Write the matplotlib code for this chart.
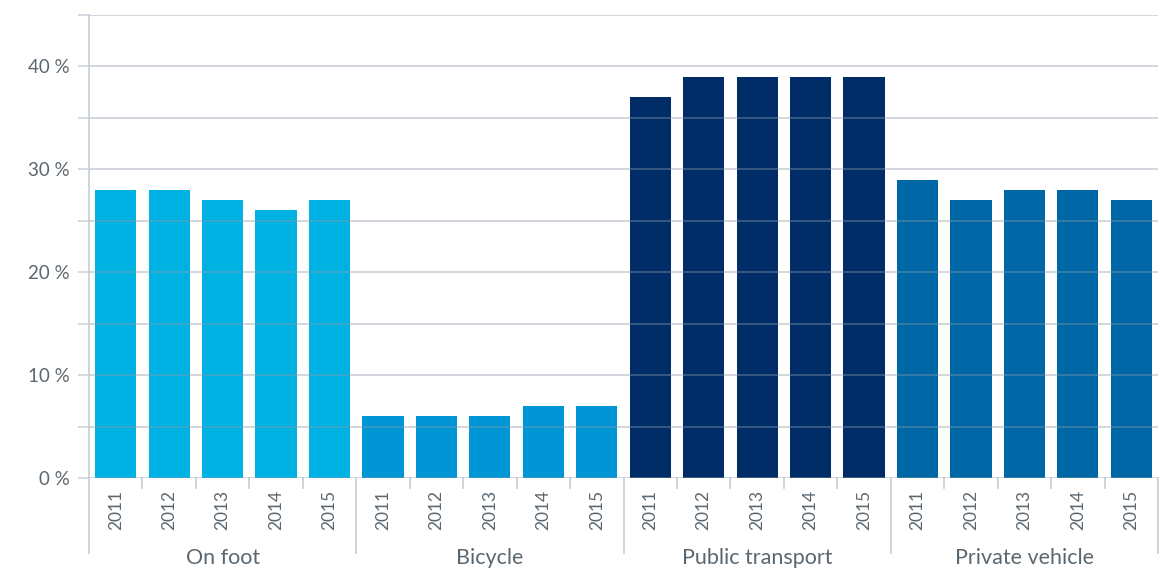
import numpy as np
import matplotlib.pyplot as plt
import matplotlib.transforms as mtransforms

plt.rcParams['font.family'] = ['Lato', 'DejaVu Sans']

years = ['2011', '2012', '2013', '2014', '2015']
groups = ['On foot', 'Bicycle', 'Public transport', 'Private vehicle']
on_foot = [28, 28, 27, 26, 27]
bicycle = [6, 6, 6, 7, 7]
public_transport = [37, 39, 39, 39, 39]
private_vehicle = [29, 27, 28, 28, 27]
values = [on_foot, bicycle, public_transport, private_vehicle]
colors = ['#00b2e3', '#0096d6', '#002d68', '#0067a6']

text_color = '#5b6770'
line_color = '#c9d1d8'

fig = plt.figure(figsize=(11.75, 5.71), dpi=100)
ax = fig.add_axes([89 / 1175, 93 / 571, (1158 - 89) / 1175, (478 - 15) / 571])

n = len(years)
for g, (vals, col) in enumerate(zip(values, colors)):
    x = np.arange(n) + g * n
    ax.bar(x, vals, width=0.77, color=col, zorder=2)

ax.set_xlim(-0.5, len(groups) * n - 0.5)
ax.set_ylim(0, 45)

# gridlines drawn over the bars
for y in np.arange(0, 46, 5):
    ax.axhline(y, color='#8a9aab', alpha=0.5, lw=1.1, zorder=3)
ax.set_yticks(np.arange(0, 46, 5))
ax.set_yticklabels([f'{int(v)} %' if v % 10 == 0 else '' for v in np.arange(0, 46, 5)],
                   fontsize=13.5, color=text_color)
ax.tick_params(axis='y', length=8, width=1.1, color=line_color, pad=6)
ax.set_xticks([])

for s in ['top', 'right', 'bottom', 'left']:
    ax.spines[s].set_visible(False)

trans = mtransforms.blended_transform_factory(ax.transData, ax.transAxes)
bottom = -0.162
# group separators
for g in range(len(groups) + 1):
    xs = g * n - 0.5
    top = 1.0 if g == 0 else 0.0
    ax.plot([xs, xs], [top, bottom], transform=trans, color=line_color,
            lw=1.3, clip_on=False, zorder=4)
# small ticks between years
for g in range(len(groups)):
    for i in range(1, n):
        xs = g * n + i - 0.5
        ax.plot([xs, xs], [0, -0.022], transform=trans, color=line_color,
                lw=1.3, clip_on=False)
# year labels and group labels
for g, name in enumerate(groups):
    for i, yr in enumerate(years):
        ax.text(g * n + i, -0.025, yr, transform=trans, rotation=90,
                ha='center', va='top', fontsize=12.5, color=text_color)
    ax.text(g * n + (n - 1) / 2, -0.172, name, transform=trans,
            ha='center', va='center', fontsize=15.5, color=text_color)

fig.savefig('out.png', dpi=100)
